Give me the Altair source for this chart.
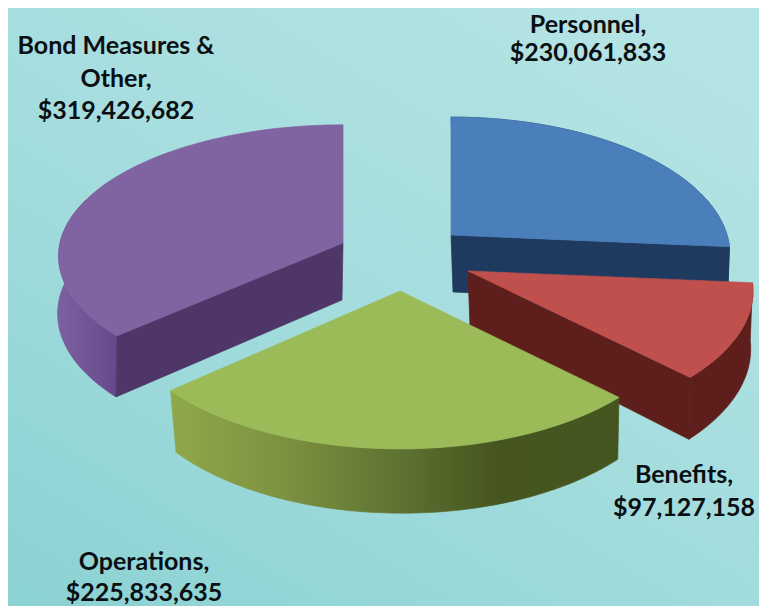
import math
import altair as alt
import pandas as pd

categories = ["Personnel", "Benefits", "Operations", "Bond Measures & Other"]
amounts = [230061833, 97127158, 225833635, 319426682]
label_lines = [
    ["Personnel,", "$230,061,833"],
    ["Benefits,", "$97,127,158"],
    ["Operations,", "$225,833,635"],
    ["Bond Measures &", "Other,", "$319,426,682"],
]
label_x = [588, 684, 144, 116]
label_base = [32.5, 483, 570, 54]
label_gap = [28, 32.5, 30.5, 32.5]

# placement of each exploded slice and its colours
apex = [(451, 235), (468, 271), (400, 291), (343, 243)]
radius_x = [276, 282, 278, 283]
radius_y = [135, 135, 135, 130]
persp = [.145, .145, .145, .10]
shrink = [.985, .985, .985, 1.0]
lower_dx = [2, 2, 2, -1]
wall_span = [(0, 360), (0, 360), (0, 360), (0, 290)]
top_col = ["#4b7fbb", "#c0504d", "#9bbb59", "#8063a1"]
cut_col = ["#1f3a5f", "#5e1f1c", "#4f6a2c", "#4e3768"]
rim_stops = [
    [("#1f3a5f", 0), ("#1f3a5f", 1)],
    [("#5e1f1c", 0), ("#5e1f1c", 1)],
    [("#8fa948", 0), ("#7d9140", .25), ("#5f7433", .5), ("#47561f", .72), ("#45551f", 1)],
    [("#7d60a0", 0), ("#735796", .4), ("#66498c", 1)],
]
DEPTH = 57
W, H = 767, 606


def project(i, deg, lower=False):
    t = math.radians(deg)
    u, v = math.sin(t), -math.cos(t)
    k = 1 / (1 - persp[i] * v)
    X, Y = radius_x[i] * u * k, radius_y[i] * v * k
    if lower:
        return apex[i][0] + lower_dx[i] + X * shrink[i], apex[i][1] + Y * shrink[i] + DEPTH * k
    return apex[i][0] + X, apex[i][1] + Y


def frame(points):
    return pd.DataFrame({"x": [p[0] for p in points], "y": [p[1] for p in points], "i": range(len(points))})


total = sum(amounts)
spans, a = [], 0.0
for v in amounts:
    b = a + 360 * v / total
    spans.append((a, b))
    a = b

X = alt.X("x:Q", scale=alt.Scale(domain=[8, W - 8], range=[0, W - 16]), axis=None)
Y = alt.Y("y:Q", scale=alt.Scale(domain=[8, H], range=[0, H - 8]), axis=None)


def poly(points, fill):
    return alt.Chart(frame(points)).mark_line(
        fill=fill, stroke=fill, strokeWidth=0.7, interpolate="linear-closed"
    ).encode(x=X, y=Y, order="i:Q")


def grad(stops):
    return alt.Gradient(gradient="linear", x1=0, y1=0, x2=1, y2=0,
                        stops=[alt.GradientStop(color=c, offset=o) for c, o in stops])


def arc(i, a0, a1, lower=False):
    n = max(2, int(abs(a1 - a0) / 2))
    return [project(i, a0 + (a1 - a0) * j / n, lower) for j in range(n + 1)]


layers = [
    alt.Chart(pd.DataFrame({"x": [8], "x2": [W - 8], "y": [8], "y2": [H]})).mark_rect(
        fill=alt.Gradient(gradient="linear", x1=0, y1=1, x2=.75, y2=0, stops=[
            alt.GradientStop(color="#8bd2d3", offset=0),
            alt.GradientStop(color="#a3dcdd", offset=.5),
            alt.GradientStop(color="#b4e3e3", offset=1),
        ])
    ).encode(x=X, x2="x2:Q", y=Y, y2="y2:Q")
]

for i in [0, 3, 1, 2]:
    s, e = spans[i]
    ax, ay = apex[i]
    low_apex = (ax + lower_dx[i], ay + DEPTH)
    # outer wall
    ws, we = max(s, wall_span[i][0]), min(e, wall_span[i][1])
    layers.append(poly(arc(i, ws, we) + arc(i, we, ws, True), grad(rim_stops[i])))
    # visible cut faces
    if i == 0 or i == 1:
        layers.append(poly([(ax, ay), project(i, e), project(i, e, True), low_apex], cut_col[i]))
    if i == 3:
        layers.append(poly([(ax, ay), project(i, s), project(i, s, True), low_apex], cut_col[i]))
    # top face
    layers.append(poly([(ax, ay)] + arc(i, s, e), top_col[i]))

rows = []
for lines, lx, base, gap in zip(label_lines, label_x, label_base, label_gap):
    for j, line in enumerate(lines):
        rows.append({"x": lx, "y": base + j * gap, "t": line})
layers.append(
    alt.Chart(pd.DataFrame(rows)).mark_text(
        font="Lato", fontWeight="bold", fontSize=25, color="#0a0f14", align="center", baseline="alphabetic"
    ).encode(x=X, y=Y, text="t:N")
)

chart = alt.layer(*layers).properties(
    width=W - 16, height=H - 8, padding=0, autosize=alt.AutoSizeParams(type="none")
).configure_view(stroke=None)
chart.save("out.html", embed_options={"renderer": "svg", "actions": False})
